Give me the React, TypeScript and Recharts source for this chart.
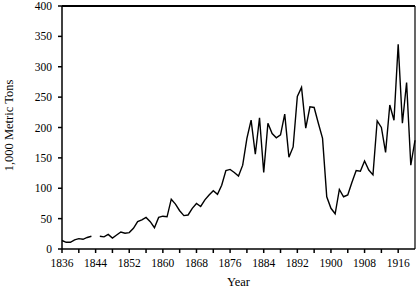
import React from 'react';
import { LineChart, Line, XAxis, YAxis, ReferenceLine } from 'recharts';

// years 1836..1920, 1844 missing in the source
const years = [
  1836, 1837, 1838, 1839, 1840, 1841, 1842, 1843, 1844, 1845,
  1846, 1847, 1848, 1849, 1850, 1851, 1852, 1853, 1854, 1855,
  1856, 1857, 1858, 1859, 1860, 1861, 1862, 1863, 1864, 1865,
  1866, 1867, 1868, 1869, 1870, 1871, 1872, 1873, 1874, 1875,
  1876, 1877, 1878, 1879, 1880, 1881, 1882, 1883, 1884, 1885,
  1886, 1887, 1888, 1889, 1890, 1891, 1892, 1893, 1894, 1895,
  1896, 1897, 1898, 1899, 1900, 1901, 1902, 1903, 1904, 1905,
  1906, 1907, 1908, 1909, 1910, 1911, 1912, 1913, 1914, 1915,
  1916, 1917, 1918, 1919, 1920,
];

const tons: (number | null)[] = [
  14, 11, 11, 15, 17, 16, 19, 21, null, 21,
  20, 24, 18, 23, 28, 26, 27, 34, 45, 48,
  52, 45, 35, 52, 54, 53, 82, 74, 63, 55,
  56, 67, 75, 70, 81, 89, 96, 90, 105, 129,
  131, 126, 120, 138, 182, 212, 156, 216, 126, 207,
  190, 183, 188, 222, 151, 168, 251, 266, 199, 234,
  233, 207, 182, 86, 67, 58, 98, 86, 89, 110,
  129, 128, 145, 130, 122, 211, 200, 159, 237, 212,
  337, 207, 274, 138, 179,
];

const xTicks = [
  1836, 1840, 1844, 1848, 1852, 1856, 1860, 1864, 1868, 1872, 1876,
  1880, 1884, 1888, 1892, 1896, 1900, 1904, 1908, 1912, 1916,
];
const yTicks = [0, 50, 100, 150, 200, 250, 300, 350, 400];

const data = years.map((year, i) => ({ year, tons: tons[i] }));

const font = '"Liberation Serif", "Times New Roman", serif';
const tickStyle = { fontFamily: font, fontSize: 11.5, fill: '#000' };

const YLabel = (props: any) => {
  const { x, y, height } = props.viewBox;
  const cx = x + 9;
  const cy = y + height / 2 - 2;
  return (
    <text x={cx} y={cy} transform={`rotate(-90, ${cx}, ${cy})`} textAnchor="middle"
      dominantBaseline="central" fontFamily={font} fontSize={12.5} fill="#000">
      1,000 Metric Tons
    </text>
  );
};

const XLabel = (props: any) => {
  const { x, width } = props.viewBox;
  return (
    <text x={x + width / 2} y={286} textAnchor="middle" fontFamily={font} fontSize={12.5} fill="#000">
      Year
    </text>
  );
};

export default function App() {
  return (
    <div style={{ position: 'absolute', left: 0, top: 0, width: 417, height: 291, background: '#fff' }}>
      <LineChart width={417} height={291} data={data} margin={{ top: 6, right: 2, bottom: 0, left: 0 }}>
        <XAxis
          dataKey="year" type="number" domain={[1836, 1920]} ticks={xTicks}
          tickFormatter={(v: number) => ((v - 1836) % 8 === 0 ? String(v) : '')}
          height={42} tickSize={4} tickMargin={6} tick={tickStyle}
          stroke="#000" strokeWidth={1.5} label={<XLabel />}
        />
        <YAxis
          domain={[0, 400]} ticks={yTicks} width={62} tickSize={4} tickMargin={6}
          tick={tickStyle} stroke="#000" strokeWidth={1.5} label={<YLabel />}
        />
        <ReferenceLine y={400} stroke="#000" strokeWidth={2} />
        <ReferenceLine x={1920} stroke="#000" strokeWidth={1.2} />
        <Line
          type="linear" dataKey="tons" stroke="#000" strokeWidth={1.4}
          dot={false} connectNulls={false} isAnimationActive={false}
        />
      </LineChart>
    </div>
  );
}
